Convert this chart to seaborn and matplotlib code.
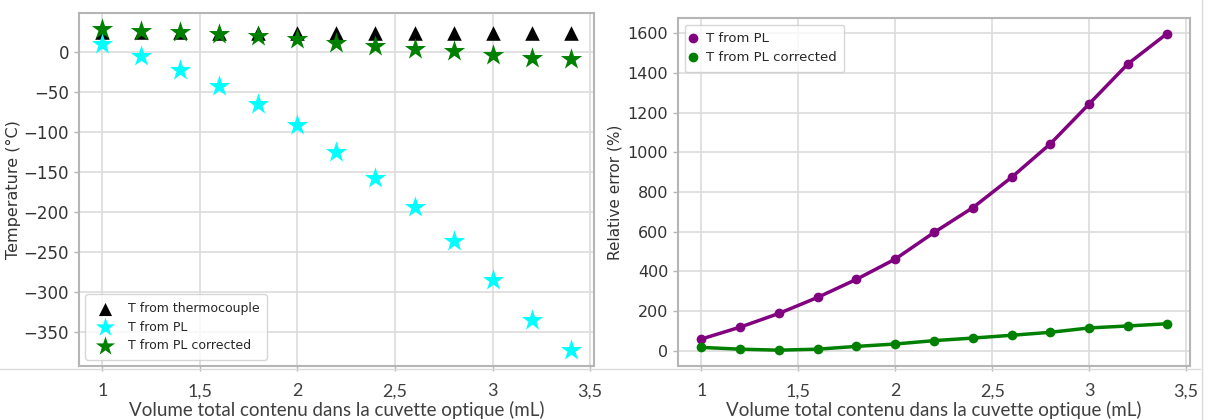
import matplotlib
matplotlib.use('Agg')
import matplotlib.pyplot as plt
import pandas as pd
import seaborn as sns
from matplotlib.lines import Line2D

# Data
volume = [1.0, 1.2, 1.4, 1.6, 1.8, 2.0, 2.2, 2.4, 2.6, 2.8, 3.0, 3.2, 3.4]
t_thermocouple = [25, 25, 25, 24, 24, 24, 24, 24, 24, 24, 24, 24, 24]
t_pl = [10, -5, -22, -42, -65, -91, -125, -157, -194, -236, -286, -335, -373]
t_pl_corrected = [29, 26, 25, 23, 20, 17, 12, 8, 4, 1, -4, -7, -9]
err_pl = [59, 119, 188, 269, 360, 462, 596, 721, 874, 1043, 1244, 1446, 1597]
err_pl_corrected = [17, 8, 3, 8, 22, 34, 51, 64, 78, 93, 115, 125, 136]

xtick_values = [1, 1.5, 2, 2.5, 3, 3.5]
xtick_labels = ['1', '1,5', '2', '2,5', '3', '3,5']
temp_ticks = [0, -50, -100, -150, -200, -250, -300, -350]
err_ticks = [0, 200, 400, 600, 800, 1000, 1200, 1400, 1600]
xlabel = 'Volume total contenu dans la cuvette optique (mL)'

df = pd.DataFrame({'volume': volume, 'tc': t_thermocouple, 'pl': t_pl,
                   'plc': t_pl_corrected, 'err': err_pl, 'errc': err_pl_corrected})

sns.set_style('whitegrid', {'axes.edgecolor': '#b5b5b5', 'grid.color': '#dcdcdc',
                            'xtick.bottom': True, 'ytick.left': True,
                            'xtick.color': '#b5b5b5', 'ytick.color': '#b5b5b5'})
plt.rcParams['font.family'] = ['DejaVu Sans']

fig = plt.figure(figsize=(12.11, 4.2), dpi=100)
ax1 = fig.add_axes([0.0652, 0.1286, 0.4253, 0.8405])
ax2 = fig.add_axes([0.5599, 0.1286, 0.4228, 0.8286])

# left panel: temperatures
sns.scatterplot(data=df, x='volume', y='tc', marker='^', s=110, color='black',
                linewidth=0, label='T from thermocouple', ax=ax1)
sns.scatterplot(data=df, x='volume', y='pl', marker='*', s=260, color='cyan',
                linewidth=0, label='T from PL', ax=ax1)
sns.scatterplot(data=df, x='volume', y='plc', marker='*', s=260, color='green',
                linewidth=0, label='T from PL corrected', ax=ax1)
ax1.set_yticks(temp_ticks)
ax1.set_ylabel('Temperature (°C)', fontsize=11.5, color='#333333', labelpad=2)
ax1.tick_params(axis='y', labelsize=12)
ax1.legend(loc='lower left', fontsize=9, frameon=True, markerscale=0.9,
           borderpad=0.6, labelspacing=0.45)

# right panel: relative error
sns.lineplot(data=df, x='volume', y='err', marker='o', markersize=7, color='purple',
             linewidth=2.5, markeredgewidth=0, label='T from PL', ax=ax2)
sns.lineplot(data=df, x='volume', y='errc', marker='o', markersize=7, color='green',
             linewidth=2.5, markeredgewidth=0, label='T from PL corrected', ax=ax2)
ax2.set_yticks(err_ticks)
ax2.set_ylabel('Relative error (%)', fontsize=11, color='#333333')
ax2.tick_params(axis='y', labelsize=11.5)
leg = ax2.legend(loc='upper left', fontsize=9.5, frameon=True, handlelength=0,
                 handletextpad=1.0, borderpad=0.6, labelspacing=0.45)
for h in leg.legend_handles:
    h.set_linestyle('none')

for ax in (ax1, ax2):
    ax.margins(x=0.05, y=0.05)
    ax.set_xticks(xtick_values)
    ax.set_xticklabels(xtick_labels, family='Lato', fontsize=13, color='#404040')
    ax.tick_params(axis='x', pad=9, length=3.5, width=1)
    ax.tick_params(axis='y', labelcolor='#333333', length=3.5, width=1)
    ax.set_xlabel(xlabel, family='Lato', fontsize=13.5, color='#404040', labelpad=1)
    ax.grid(True, linewidth=1.2)
    for s in ax.spines.values():
        s.set_linewidth(1.5)

# light borders of the pasted screenshots
fig.add_artist(Line2D([0, 1200 / 1211], [1 - 369 / 420] * 2, color='#dadada', lw=1))
fig.add_artist(Line2D([1202 / 1211] * 2, [0, 1], color='#dadada', lw=1))

fig.savefig('out.png', dpi=100)
